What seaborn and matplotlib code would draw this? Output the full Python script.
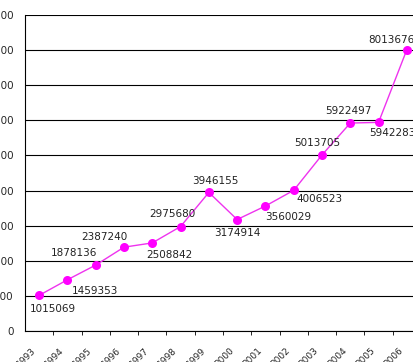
import matplotlib
matplotlib.use("Agg")
import matplotlib.pyplot as plt
import matplotlib.transforms as mtransforms
import pandas as pd
import seaborn as sns

years = ["1993", "1994", "1995", "1996", "1997", "1998", "1999",
         "2000", "2001", "2002", "2003", "2004", "2005", "2006"]
values = [1015069, 1459353, 1878136, 2387240, 2508842, 2975680, 3946155,
          3174914, 3560029, 4006523, 5013705, 5922497, 5942283, 8013676]

# where each value label sits relative to its point (pixels, right / up)
label_offsets = [(14, -14), (28, -11), (-22, 12), (-20, 10), (17, -12),
                 (-8, 13), (6, 11), (0, -13), (23, -11), (26, -9),
                 (-5, 12), (-2, 12), (14, -11), (-15, 10)]

sns.set_style("white")
plt.rcParams["font.family"] = ["DejaVu Sans"]

df = pd.DataFrame({"pos": range(len(years)), "year": years, "value": values})

fig = plt.figure(figsize=(4.14, 3.62), dpi=100)
ax = fig.add_axes([25 / 414, 31 / 362, 396 / 414, 316 / 362])

sns.lineplot(data=df, x="pos", y="value", ax=ax, color="#ee33ee",
             linewidth=1, marker="o", markersize=6.5,
             markerfacecolor="#ff00ff", markeredgewidth=0)

for x, v, (dx, dy) in zip(df["pos"], values, label_offsets):
    ax.annotate(str(v), (x, v), xytext=(dx, dy), textcoords="offset pixels",
                ha="center", va="center", fontsize=7.5, color="#222222")

ax.set_xlim(-0.5, len(years) - 0.5)
ax.set_ylim(0, 9000000)
ax.set_yticks(range(0, 9000001, 1000000))
ax.set_yticklabels([str(t) for t in range(0, 9000001, 1000000)])
ax.tick_params(axis="y", length=0, pad=8, labelsize=7.5)

ax.set_xticks(range(len(years)))
ax.set_xticklabels(years, rotation=45, ha="right", rotation_mode="anchor",
                   fontsize=6.5)
ax.set_xticks([i + 0.5 for i in range(len(years) - 1)], minor=True)
ax.tick_params(axis="x", which="major", length=0, pad=10.5)
ax.tick_params(axis="x", which="minor", length=3, color="black",
               direction="out", bottom=True)
shift = mtransforms.ScaledTranslation(-8 / 100, 0, fig.dpi_scale_trans)
for lab in ax.get_xticklabels():
    lab.set_transform(lab.get_transform() + shift)

ax.set_xlabel("")
ax.set_ylabel("")
ax.yaxis.grid(True, color="black", linewidth=0.8)
ax.set_axisbelow(True)
for side in ["top", "right"]:
    ax.spines[side].set_visible(False)
ax.spines["left"].set_color("black")
ax.spines["bottom"].set_color("black")
ax.spines["left"].set_linewidth(0.8)
ax.spines["bottom"].set_linewidth(0.8)

fig.savefig("out.png", dpi=100)
